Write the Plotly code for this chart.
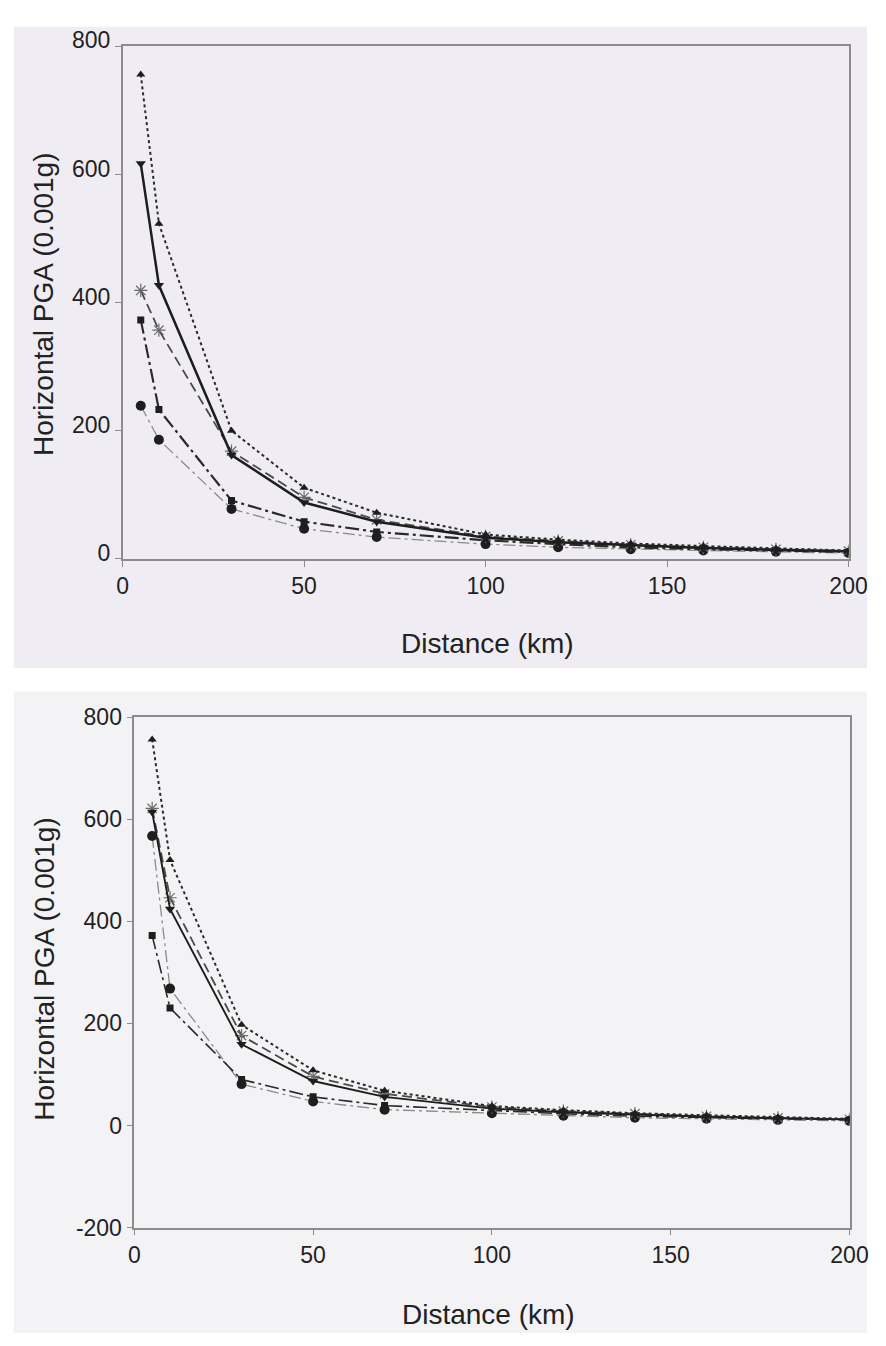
import plotly.graph_objects as go

# Distances (km)
distance = [5, 10, 30, 50, 70, 100, 120, 140, 160, 180, 200]

# Top panel series (Horizontal PGA, 0.001g)
top_tri_up   = [756, 523, 200, 111, 72, 38, 30, 24, 20, 16, 13]
top_tri_down = [617, 427, 162, 88, 58, 33, 26, 21, 17, 14, 12]
top_star     = [419, 357, 168, 96, 61, 35, 28, 22, 18, 15, 12]
top_square   = [373, 233, 91, 58, 42, 29, 23, 18, 15, 13, 11]
top_circle   = [239, 186, 78, 47, 34, 23, 18, 15, 13, 11, 9]

# Bottom panel series
bot_tri_up   = [756, 520, 197, 108, 68, 38, 30, 24, 20, 16, 13]
bot_tri_down = [614, 424, 159, 87, 56, 33, 26, 21, 17, 14, 12]
bot_star     = [621, 446, 176, 96, 62, 36, 28, 23, 18, 15, 12]
bot_square   = [372, 230, 90, 56, 39, 29, 23, 18, 15, 13, 11]
bot_circle   = [567, 268, 81, 47, 31, 24, 19, 15, 13, 11, 9]

x_ticks = [0, 50, 100, 150, 200]
top_y_ticks = [0, 200, 400, 600, 800]
bot_y_ticks = [-200, 0, 200, 400, 600, 800]
bot_y_labels = ["-200", "0", "200", "400", "600", "800"]

FONT = "Liberation Sans, Arial, sans-serif"
W, H = 886, 1346

fig = go.Figure()


def add_panel(xa, ya, s1, s2, s3, s4, s5, thin=False):
    w = 1.6 if thin else 2.2
    fig.add_trace(go.Scatter(
        x=distance, y=s5, xaxis=xa, yaxis=ya, mode="lines+markers",
        line=dict(color="#8a8a8a", width=1.3, dash="12px,4px,3px,4px"),
        marker=dict(symbol="circle", size=10, color="#1e1e1e"),
        showlegend=False))
    fig.add_trace(go.Scatter(
        x=distance, y=s4, xaxis=xa, yaxis=ya, mode="lines+markers",
        line=dict(color="#2a2a2a", width=w, dash="14px,4px,3px,4px"),
        marker=dict(symbol="square", size=7, color="#1e1e1e"),
        showlegend=False))
    fig.add_trace(go.Scatter(
        x=distance, y=s3, xaxis=xa, yaxis=ya, mode="lines+markers",
        line=dict(color="#4a4a4a", width=1.8, dash="10px,5px"),
        marker=dict(symbol="asterisk-open", size=11, color="#6a6a6a",
                    line=dict(width=1.2, color="#6a6a6a")),
        showlegend=False))
    fig.add_trace(go.Scatter(
        x=distance, y=s2, xaxis=xa, yaxis=ya, mode="lines+markers",
        line=dict(color="#1e1e1e", width=w + 0.3, dash="solid"),
        marker=dict(symbol="triangle-down", size=9, color="#1e1e1e"),
        showlegend=False))
    fig.add_trace(go.Scatter(
        x=distance, y=s1, xaxis=xa, yaxis=ya, mode="lines+markers",
        line=dict(color="#2a2a2a", width=2, dash="3px,3px"),
        marker=dict(symbol="triangle-up", size=8, color="#1e1e1e"),
        showlegend=False))


add_panel("x", "y", top_tri_up, top_tri_down, top_star, top_square, top_circle)
add_panel("x2", "y2", bot_tri_up, bot_tri_down, bot_star, bot_square, bot_circle, thin=True)

axis_common = dict(
    showgrid=False, zeroline=False, showline=True, linecolor="#8c8c8c",
    linewidth=1.5, mirror=True, ticks="outside", ticklen=6, tickwidth=1.3,
    tickcolor="#8c8c8c", tickfont=dict(family=FONT, size=23, color="#222222"),
    ticklabeloverflow="allow",
)

fig.update_layout(
    width=W, height=H,
    margin=dict(l=0, r=0, t=0, b=0),
    paper_bgcolor="white",
    plot_bgcolor="rgba(0,0,0,0)",
    xaxis=dict(domain=[120 / W, 867 / W], range=[0, 200], tickvals=x_ticks,
               anchor="y", **axis_common),
    yaxis=dict(domain=[1 - 553 / H, 1 - 28 / H], range=[0, 800], tickvals=top_y_ticks,
               anchor="x", ticklabelshift=-6, **axis_common),
    xaxis2=dict(domain=[132 / W, 868 / W], range=[0, 200], tickvals=x_ticks,
                anchor="y2", **axis_common),
    yaxis2=dict(domain=[1 - 1238 / H, 1 - 715 / H], range=[-200, 800], tickvals=bot_y_ticks,
                ticktext=bot_y_labels, anchor="x2", **axis_common),
    shapes=[
        dict(type="rect", xref="paper", yref="paper", x0=8 / W, x1=1,
             y0=1 - 665 / H, y1=1 - 8 / H, fillcolor="#efedf3",
             line=dict(width=0), layer="below"),
        dict(type="rect", xref="paper", yref="paper", x0=8 / W, x1=1,
             y0=0, y1=1 - 689 / H, fillcolor="#f3f2f5",
             line=dict(width=0), layer="below"),
    ],
    annotations=[
        dict(text="Distance (km)", x=495 / W, y=1 - 640 / H, xref="paper", yref="paper",
             showarrow=False, font=dict(family=FONT, size=28, color="#222222"),
             xanchor="center", yanchor="middle"),
        dict(text="Horizontal PGA (0.001g)", x=38 / W, y=1 - 292 / H, xref="paper",
             yref="paper", showarrow=False, textangle=-90,
             font=dict(family=FONT, size=28, color="#222222"),
             xanchor="center", yanchor="middle"),
        dict(text="Distance (km)", x=497 / W, y=1 - 1327 / H, xref="paper", yref="paper",
             showarrow=False, font=dict(family=FONT, size=28, color="#222222"),
             xanchor="center", yanchor="middle"),
        dict(text="Horizontal PGA (0.001g)", x=40 / W, y=1 - 973 / H, xref="paper",
             yref="paper", showarrow=False, textangle=-90,
             font=dict(family=FONT, size=28, color="#222222"),
             xanchor="center", yanchor="middle"),
    ],
)

fig.write_html(
    "out.html",
    post_script="document.body.style.margin='0';document.body.style.padding='0';",
)
